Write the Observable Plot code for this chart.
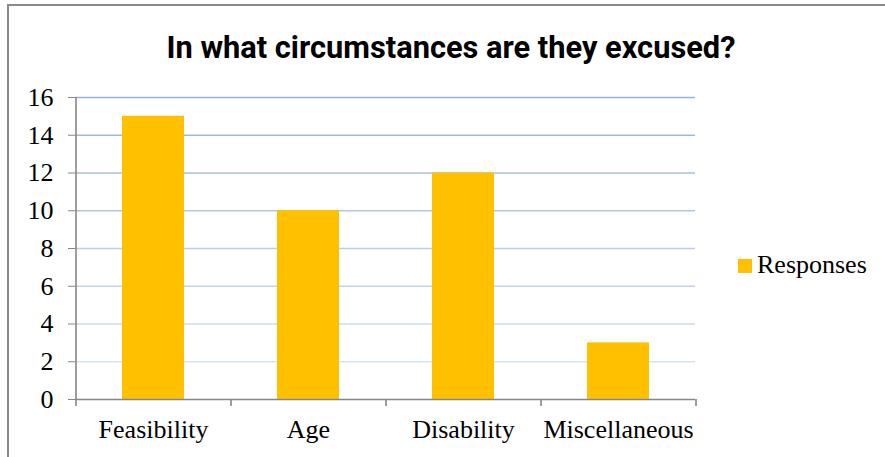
<!DOCTYPE html>
<html>
<head>
<meta charset="utf-8">
<script src="https://cdn.jsdelivr.net/npm/d3@7"></script>
<script src="https://cdn.jsdelivr.net/npm/@observablehq/plot@0.6"></script>
<style>
  html, body { margin: 0; padding: 0; background: #fff; }
  #wrap { position: relative; width: 885px; height: 457px; overflow: hidden; background: #fff; }
  #border { position: absolute; left: 7px; top: 4px; width: 900px; height: 500px; border: 2px solid #8a8a8a; box-sizing: border-box; }
  #title { position: absolute; left: 0; width: 902px; top: 33px; text-align: center; font-family: Roboto, "Liberation Sans", sans-serif; font-weight: 700; font-size: 30.8px; line-height: 30px; color: #000; white-space: nowrap; }
  #legend { position: absolute; left: 738px; top: 252px; font-family: "Liberation Serif", serif; font-size: 26px; line-height: 26px; color: #000; white-space: nowrap; }
  #legend .sw { display: inline-block; width: 14px; height: 14px; background: #FFC000; margin-right: 5px; vertical-align: 0px; }
  #plot { position: absolute; left: 0; top: 0; }
</style>
</head>
<body>
<div id="wrap">
  <div id="border"></div>
  <div id="plot"></div>
  <div id="title">In what circumstances are they excused?</div>
  <div id="legend"><span class="sw"></span>Responses</div>
</div>
<script>
const categories = ["Feasibility", "Age", "Disability", "Miscellaneous"];
const responses = [15, 10, 12, 3];
const yTicks = [0, 2, 4, 6, 8, 10, 12, 14, 16];
const gridValues = [2, 4, 6, 8, 10, 12, 14, 16];

const W = 885, H = 457;
const mL = 75, mR = 190, mT = 97, mB = 58;
const padInner = 0.6, padOuter = 0.3;
const step = (W - mL - mR) / (categories.length - padInner + 2 * padOuter);

const data = categories.map((c, i) => ({category: c, value: responses[i]}));
const gridColor = d3.interpolateRgb("#dde7f3", "#95b3d7");
const axisGray = "#868686";

const chart = Plot.plot({
  width: W,
  height: H,
  marginLeft: mL,
  marginRight: mR,
  marginTop: mT,
  marginBottom: mB,
  style: {fontFamily: "'Liberation Serif', 'Times New Roman', serif", fontSize: "26px", color: "#000", background: "transparent", overflow: "visible"},
  x: {domain: categories, paddingInner: padInner, paddingOuter: padOuter, axis: null, label: null},
  y: {domain: [0, 16], axis: null, label: null},
  marks: [
    Plot.ruleY(gridValues, {y: d => d, stroke: d => gridColor(d / 16), strokeWidth: 1.6}),
    Plot.barY(data, {x: "category", y: "value", fill: "#FFC000"}),
    Plot.ruleY([0], {stroke: axisGray, strokeWidth: 1.6}),
    Plot.ruleX(categories.slice(0, 1), {x: d => d, dx: -step / 2, y1: 0, y2: 16, stroke: axisGray, strokeWidth: 1.6}),
    Plot.ruleX(categories, {x: d => d, dx: -step / 2, y1: 0, y2: 0, insetBottom: -7, stroke: axisGray, strokeWidth: 1.6}),
    Plot.ruleX(categories.slice(-1), {x: d => d, dx: step / 2, y1: 0, y2: 0, insetBottom: -7, stroke: axisGray, strokeWidth: 1.6}),
    Plot.axisY({ticks: yTicks, tickSize: 7, tickPadding: 15, stroke: axisGray, fill: "#000", fontSize: 26, label: null, tickFormat: d => String(d)}),
    Plot.axisX({tickSize: 0, tickPadding: 20, fill: "#000", fontSize: 26, label: null})
  ]
});
document.getElementById("plot").appendChild(chart);
</script>
</body>
</html>
